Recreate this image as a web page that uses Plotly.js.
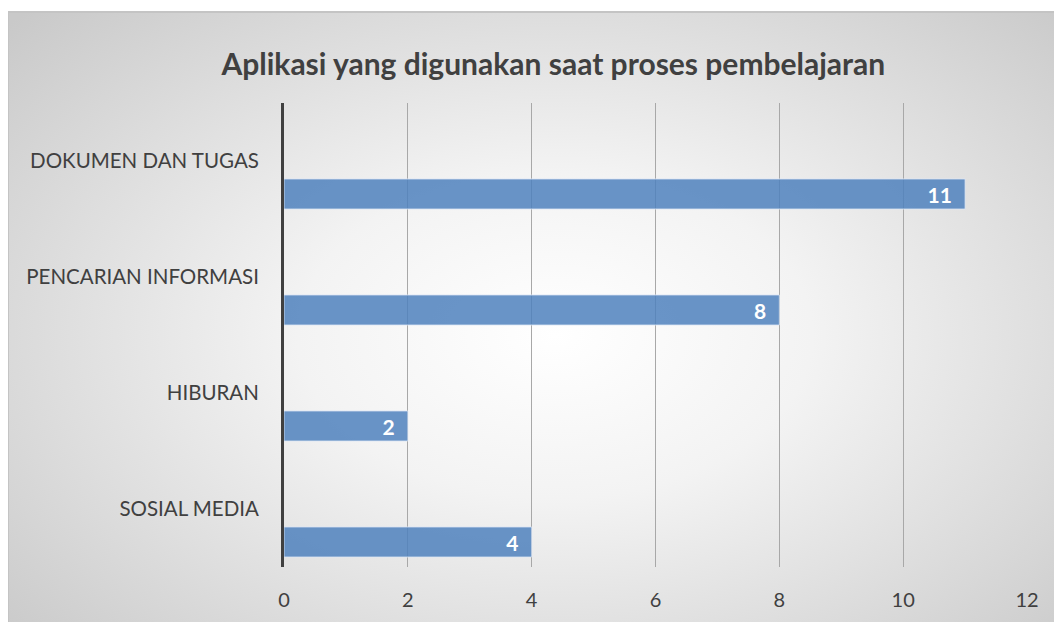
<!DOCTYPE html>
<html>
<head>
<meta charset="utf-8">
<script src="https://cdn.plot.ly/plotly-3.0.1.min.js"></script>
<style>
  html, body { margin: 0; padding: 0; background: #ffffff; }
  #bg {
    position: absolute; left: 8px; top: 11px; width: 1050px; height: 620px;
    border-left: 1px solid #c4c4c4; border-top: 2px solid #c4c4c4;
    background: radial-gradient(ellipse 70% 75% at 52% 52%, #ffffff 0%, #f3f3f3 35%, #d6d6d6 80%, #c9c9c9 100%);
  }
  #chart { position: absolute; left: 0; top: 0; width: 1054px; height: 622px; }
</style>
</head>
<body>
<div id="bg"></div>
<div id="chart"></div>
<script>
const categories = ["DOKUMEN DAN TUGAS", "PENCARIAN INFORMASI", "HIBURAN", "SOSIAL MEDIA"];
const values = [11, 8, 2, 4];
const xTicks = [0, 2, 4, 6, 8, 10, 12];
const chartTitle = "Aplikasi yang digunakan saat proses pembelajaran";

const trace = {
  type: "bar",
  orientation: "h",
  x: values,
  y: categories,
  width: 0.259,
  offset: 0.155,
  marker: { color: "rgba(79,129,189,0.85)", line: { color: "rgba(220,230,245,0.8)", width: 1 } },
  text: values.map(v => String(v) + "\u00a0\u00a0"),
  textposition: "inside",
  insidetextanchor: "end",
  textangle: 0,
  constraintext: "none",
  textfont: { family: "Lato, 'Open Sans', sans-serif", size: 21, color: "#ffffff", weight: "bold" },
  hoverinfo: "x+y",
  cliponaxis: false
};

const layout = {
  width: 1054, height: 622,
  paper_bgcolor: "rgba(0,0,0,0)",
  plot_bgcolor: "rgba(0,0,0,0)",
  margin: { l: 284, r: 27, t: 103, b: 55 },
  showlegend: false,
  title: {
    text: "<b>" + chartTitle + "</b>",
    font: { family: "Lato, 'Open Sans', sans-serif", size: 30, color: "#404040" },
    x: 0.525, xanchor: "center", y: 1 - 64 / 622, yanchor: "middle"
  },
  xaxis: {
    range: [0, 12],
    tickvals: xTicks,
    ticktext: xTicks.map(String),
    showgrid: true, gridcolor: "#a8a8a8", gridwidth: 1,
    zeroline: false, showline: false,
    ticks: "outside", ticklen: 15, tickcolor: "rgba(0,0,0,0)",
    tickfont: { family: "Lato, 'Open Sans', sans-serif", size: 20, color: "#404040" },
    fixedrange: true
  },
  yaxis: {
    type: "category",
    categoryorder: "array", categoryarray: categories,
    range: [3.5, -0.5],
    showgrid: false, zeroline: false,
    showline: true, linecolor: "#404040", linewidth: 3,
    ticks: "outside", ticklen: 18, tickcolor: "rgba(0,0,0,0)",
    tickfont: { family: "Lato, 'Open Sans', sans-serif", size: 20.5, color: "#404040" },
    fixedrange: true
  },
  bargap: 0
};

Plotly.newPlot("chart", [trace], layout, { displayModeBar: false, staticPlot: true });
</script>
</body>
</html>
